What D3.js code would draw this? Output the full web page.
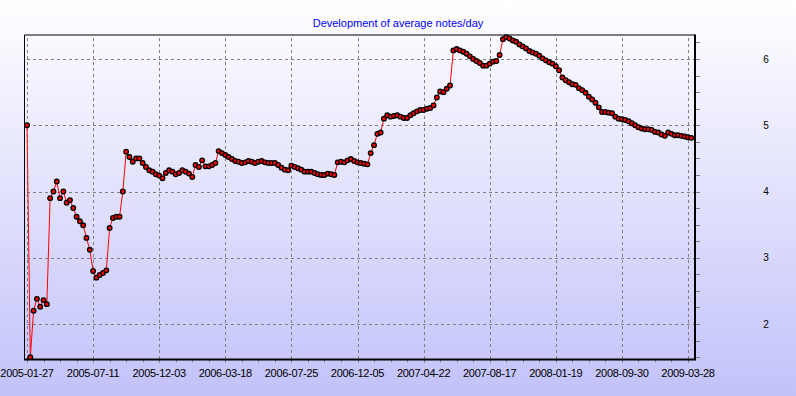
<!DOCTYPE html>
<html>
<head>
<meta charset="utf-8">
<script src="https://cdn.jsdelivr.net/npm/d3@7"></script>
<style>
  html, body { margin: 0; padding: 0; }
  body { width: 796px; height: 396px; overflow: hidden; }
</style>
</head>
<body>
<div id="chart"></div>
<script>
// average notes/day, one value per sample (index based x axis)
const notesPerDay = [
  5.0, 1.5, 2.2, 2.38, 2.26, 2.36, 2.3, 3.9, 4.0, 4.15,
  3.9, 4.0, 3.83, 3.87, 3.75, 3.62, 3.55, 3.49, 3.3, 3.12,
  2.8, 2.7, 2.74, 2.77, 2.81, 3.45, 3.6, 3.62, 3.62, 4.0,
  4.6, 4.52, 4.45, 4.5, 4.5, 4.43, 4.37, 4.32, 4.3, 4.26,
  4.24, 4.2, 4.28, 4.32, 4.3, 4.26, 4.28, 4.32, 4.3, 4.27,
  4.22, 4.4, 4.37, 4.47, 4.38, 4.38, 4.4, 4.43, 4.61, 4.58,
  4.55, 4.52, 4.49, 4.46, 4.45, 4.43, 4.44, 4.46, 4.45, 4.43,
  4.45, 4.46, 4.44, 4.43, 4.43, 4.43, 4.4, 4.36, 4.33, 4.32,
  4.39, 4.37, 4.35, 4.33, 4.3, 4.3, 4.3, 4.28, 4.26, 4.25,
  4.25, 4.27, 4.26, 4.25, 4.44, 4.45, 4.44, 4.47, 4.49, 4.46,
  4.44, 4.43, 4.42, 4.41, 4.58, 4.7, 4.87, 4.89, 5.1, 5.15,
  5.13, 5.14, 5.15, 5.13, 5.11, 5.11, 5.15, 5.18, 5.21, 5.23,
  5.23, 5.25, 5.26, 5.3, 5.42, 5.51, 5.5, 5.55, 5.6, 6.13,
  6.15, 6.13, 6.11, 6.08, 6.04, 6.0, 5.97, 5.94, 5.9, 5.9,
  5.93, 5.96, 5.97, 6.06, 6.3, 6.33, 6.31, 6.28, 6.26, 6.22,
  6.19, 6.16, 6.12, 6.1, 6.08, 6.05, 6.01, 5.98, 5.95, 5.93,
  5.89, 5.83, 5.72, 5.68, 5.65, 5.62, 5.61, 5.56, 5.53, 5.49,
  5.43, 5.39, 5.34, 5.27, 5.2, 5.2, 5.19, 5.18, 5.13, 5.1,
  5.09, 5.08, 5.06, 5.03, 5.0, 4.97, 4.95, 4.94, 4.94, 4.93,
  4.9, 4.89, 4.86, 4.84, 4.89, 4.87, 4.85, 4.85, 4.84, 4.83,
  4.82, 4.81
]

// date labels shown under every 20th sample
const dateLabels = [
  "2005-01-27", "2005-07-11", "2005-12-03", "2006-03-18", "2006-07-25",
  "2006-12-05", "2007-04-22", "2007-08-17", "2008-01-19", "2008-09-30",
  "2009-03-28"
]
const samplesPerLabel = 20
const yTicks = [2, 3, 4, 5, 6]

const title = "Development of average notes/day"

const width = 796
const height = 396
const frameLeft = 24.5
const frameRight = 695
const frameTop = 35
const frameBottom = 359.5

const svg = d3.select("#chart")
    .append("svg")
    .attr("width", width)
    .attr("height", height)
    .attr("viewBox", [0, 0, width, height])
    .style("font-family", "'Liberation Sans', Arial, sans-serif")

// background: white at top fading to lavender
const grad = svg.append("defs").append("linearGradient")
    .attr("id", "bg")
    .attr("x1", 0).attr("y1", 0).attr("x2", 0).attr("y2", 1)
grad.append("stop").attr("offset", "0%").attr("stop-color", "#ffffff")
grad.append("stop").attr("offset", "100%").attr("stop-color", "#c2c2fa")

svg.append("rect")
    .attr("width", width)
    .attr("height", height)
    .attr("fill", "url(#bg)")

const xScale = d3.scaleLinear()
    .domain([0, (dateLabels.length - 1) * samplesPerLabel])
    .range([27, 688])
const yScale = d3.scaleLinear()
    .domain([2, 6])
    .range([324, 59])

const majorX = d3.range(dateLabels.length).map(k => k * samplesPerLabel)
const minorX = d3.range(0, (dateLabels.length - 1) * samplesPerLabel + 1, samplesPerLabel / 4)
const minorY = d3.range(1.5, 6.5, 0.25).filter(v => yScale(v) > frameTop && yScale(v) < frameBottom)

// grid
const grid = svg.append("g")
    .attr("stroke", "#808080")
    .attr("stroke-width", 1)
    .attr("stroke-dasharray", "3,3")
grid.selectAll("line.v")
    .data(majorX)
    .join("line")
    .attr("class", "v")
    .attr("x1", d => Math.round(xScale(d)) + 0.5)
    .attr("x2", d => Math.round(xScale(d)) + 0.5)
    .attr("y1", frameTop + 3)
    .attr("y2", frameBottom + 3)
grid.selectAll("line.h")
    .data(yTicks)
    .join("line")
    .attr("class", "h")
    .attr("y1", d => Math.round(yScale(d)) + 0.5)
    .attr("y2", d => Math.round(yScale(d)) + 0.5)
    .attr("x1", 27)
    .attr("x2", frameRight + 5)

// minor ticks outside the frame
svg.append("g")
    .attr("stroke", "#808080")
    .selectAll("line")
    .data(minorX)
    .join("line")
    .attr("x1", d => Math.round(xScale(d)) + 0.5)
    .attr("x2", d => Math.round(xScale(d)) + 0.5)
    .attr("y1", frameBottom)
    .attr("y2", frameBottom + 3)
svg.append("g")
    .attr("stroke", "#808080")
    .selectAll("line")
    .data(minorY)
    .join("line")
    .attr("y1", d => Math.round(yScale(d)) + 0.5)
    .attr("y2", d => Math.round(yScale(d)) + 0.5)
    .attr("x1", frameRight)
    .attr("x2", frameRight + 5)

// frame: thin left/top, heavier right/bottom
svg.append("path")
    .attr("fill", "none")
    .attr("stroke", "#000")
    .attr("stroke-width", 1)
    .attr("d", `M${frameLeft},${frameBottom}V${frameTop}H${frameRight}`)
svg.append("path")
    .attr("fill", "none")
    .attr("stroke", "#000")
    .attr("stroke-width", 2)
    .attr("d", `M${frameLeft - 0.5},${frameBottom}H${frameRight}V${frameTop - 0.5}`)

// data
const line = d3.line()
    .x((d, i) => xScale(i))
    .y(d => yScale(d))

svg.append("path")
    .datum(notesPerDay)
    .attr("fill", "none")
    .attr("stroke", "#ff0000")
    .attr("stroke-width", 1)
    .attr("d", line)

svg.append("g")
    .selectAll("circle")
    .data(notesPerDay)
    .join("circle")
    .attr("cx", (d, i) => xScale(i))
    .attr("cy", d => yScale(d))
    .attr("r", 2.3)
    .attr("fill", "#ff0000")
    .attr("stroke", "#000")
    .attr("stroke-width", 1.3)

// labels
svg.append("g")
    .selectAll("text")
    .data(dateLabels)
    .join("text")
    .attr("x", (d, k) => xScale(majorX[k]))
    .attr("y", 377)
    .attr("text-anchor", "middle")
    .attr("font-size", "11px")
    .attr("letter-spacing", "-0.3px")
    .attr("fill", "#000")
    .text(d => d)

svg.append("g")
    .selectAll("text")
    .data(yTicks)
    .join("text")
    .attr("x", 766)
    .attr("y", d => yScale(d) + 3.5)
    .attr("text-anchor", "middle")
    .attr("font-size", "10px")
    .attr("fill", "#000")
    .text(d => d)

svg.append("text")
    .attr("x", 398)
    .attr("y", 27)
    .attr("text-anchor", "middle")
    .attr("font-size", "11px")
    .attr("fill", "#0000ff")
    .text(title)
</script>
</body>
</html>
